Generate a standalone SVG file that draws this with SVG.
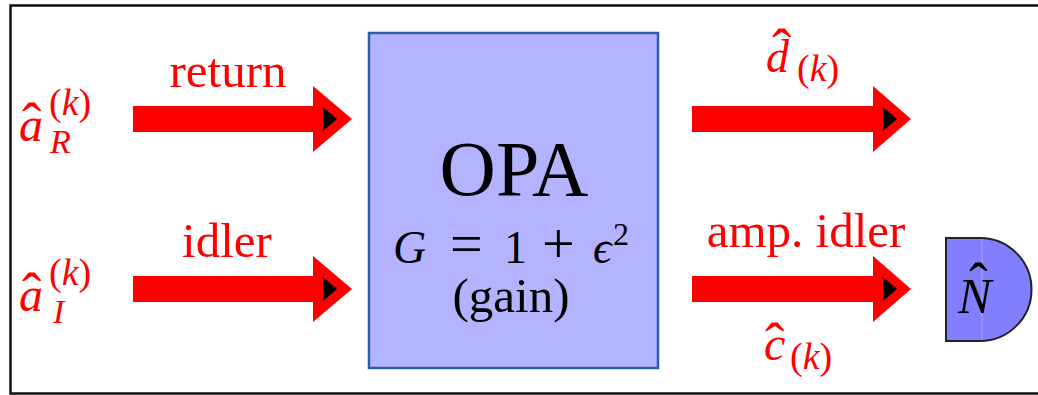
<svg xmlns="http://www.w3.org/2000/svg" width="1038" height="395" viewBox="0 0 1038 395">
<style>
.t{font-family:"Liberation Serif","Times New Roman","DejaVu Serif",serif;}
.red{fill:#ff0000;}
.m{font-style:italic;}
.arr{fill:#ff0000;}
.tip{fill:#000;}
.hat{font-style:normal;}
</style>
<rect x="0" y="0" width="1038" height="395" fill="#fff"/>
<rect x="10.5" y="5.5" width="1040" height="388" fill="none" stroke="#111" stroke-width="2.5"/>
<g id="connectors">
  <g id="arrow-return">
    <polygon class="arr" points="133,106 313,106 313,86 352,119 313,152 313,132 133,132"/>
    <polygon class="tip" points="323,107 337,119 323,131"/>
  </g>
  <g id="arrow-idler">
    <polygon class="arr" points="133,276 313,276 313,256 352,289 313,322 313,302 133,302"/>
    <polygon class="tip" points="323,277 337,289 323,301"/>
  </g>
  <g id="arrow-d">
    <polygon class="arr" points="692,106 873,106 873,86 911,119 873,152 873,132 692,132"/>
    <polygon class="tip" points="883,107 897,119 883,131"/>
  </g>
  <g id="arrow-amp">
    <polygon class="arr" points="692,276 873,276 873,256 911,289 873,322 873,302 692,302"/>
    <polygon class="tip" points="883,277 897,289 883,301"/>
  </g>
</g>
<g id="labels" class="t red">
  <text x="228" y="87" font-size="49" text-anchor="middle">return</text>
  <text x="227" y="257" font-size="49" text-anchor="middle">idler</text>
  <text x="806" y="247" font-size="49" text-anchor="middle">amp. idler</text>
  <g id="aR">
    <text font-size="48"><tspan class="m" x="19" y="141">a</tspan><tspan class="hat" x="22" y="142" font-size="58">ˆ</tspan><tspan x="49" y="115" font-size="38">(</tspan><tspan class="m" font-size="38">k</tspan><tspan font-size="38">)</tspan><tspan class="m" x="50" y="153" font-size="34">R</tspan></text>
  </g>
  <g id="aI">
    <text font-size="48"><tspan class="m" x="19" y="311">a</tspan><tspan class="hat" x="22" y="312" font-size="58">ˆ</tspan><tspan x="49" y="285" font-size="38">(</tspan><tspan class="m" font-size="38">k</tspan><tspan font-size="38">)</tspan><tspan class="m" x="53" y="323" font-size="34">I</tspan></text>
  </g>
  <g id="dk">
    <text font-size="46"><tspan class="m" x="766" y="72">d</tspan><tspan class="hat" x="772" y="68" font-size="58">ˆ</tspan><tspan x="797" y="81" font-size="38">(</tspan><tspan class="m" font-size="38">k</tspan><tspan font-size="38">)</tspan></text>
  </g>
  <g id="ck">
    <text font-size="48"><tspan class="m" x="764" y="360">c</tspan><tspan class="hat" x="765" y="362" font-size="58">ˆ</tspan><tspan x="790" y="369" font-size="38">(</tspan><tspan class="m" font-size="38">k</tspan><tspan font-size="38">)</tspan></text>
  </g>
</g>
<g id="opa">
  <rect x="369" y="33" width="289" height="335" fill="#b3b3ff" stroke="#2b5ea8" stroke-width="2.5"/>
  <text class="t" x="514" y="195" font-size="78" text-anchor="middle">OPA</text>
  <text class="t" y="263" font-size="46"><tspan x="393" class="m">G</tspan><tspan x="450" font-size="58">=</tspan><tspan x="504">1</tspan><tspan x="542" font-size="58">+</tspan><tspan x="593" class="m">ϵ</tspan><tspan x="613" y="245" font-size="32">2</tspan></text>
  <text class="t" x="511" y="312" font-size="49" text-anchor="middle">(gain)</text>
</g>
<g id="detector">
  <path d="M946,238 L980,238 A51.5,51.5 0 0 1 980,341 L946,341 Z" fill="#8080ff" stroke="#222" stroke-width="2"/>
  <line x1="982" y1="239" x2="982" y2="340" stroke="#a8a8ff" stroke-width="1"/>
  <text class="t" font-size="50"><tspan class="m" x="958" y="313">N</tspan><tspan x="969" y="302" font-size="56">ˆ</tspan></text>
</g>
</svg>
